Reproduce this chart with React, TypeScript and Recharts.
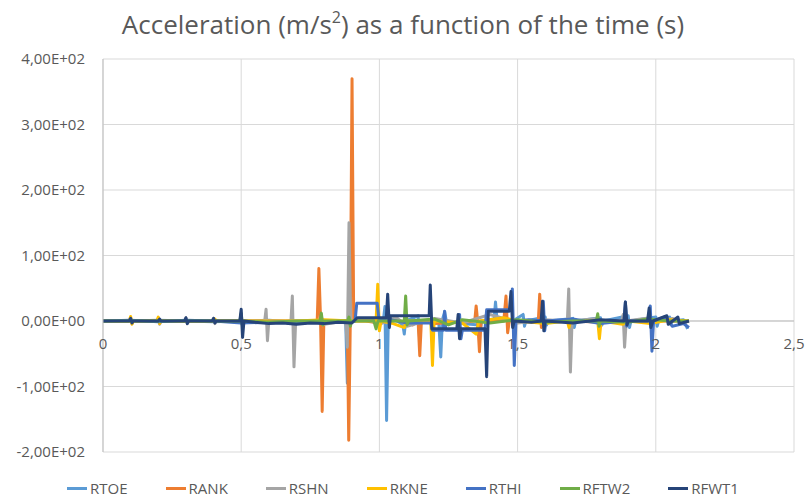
import { LineChart, Line, XAxis, YAxis, CartesianGrid, ReferenceLine } from "recharts"

type Pt = [number, number]

// time (s), acceleration (m/s²) per marker
const RTOE: Pt[] = [
  [0, 0], [0.1, 0], [0.2, 1], [0.3, 0], [0.4, -1], [0.495, 0], [0.5, 5], [0.505, -7], [0.51, 0],
  [0.6, 1], [0.7, -2], [0.8, 0], [0.878, 0], [0.884, -95], [0.889, 12], [0.895, 0], [0.95, 2],
  [1.015, 3], [1.02, 22], [1.026, -152], [1.032, -4], [1.06, 2], [1.085, -6], [1.09, -20], [1.095, 0],
  [1.14, 8], [1.145, -24], [1.15, 0], [1.215, -3], [1.222, -55], [1.228, 2], [1.236, 14], [1.242, 0],
  [1.3, -4], [1.36, -6], [1.365, -14], [1.37, 0], [1.415, 3], [1.42, 29], [1.426, 0], [1.49, 2],
  [1.52, 10], [1.525, -8], [1.53, 0], [1.6, 6], [1.605, -6], [1.61, 0], [1.7, 4], [1.705, -10], [1.71, 0],
  [1.8, 5], [1.805, -6], [1.81, 0], [1.9, 8], [1.905, -10], [1.91, 0], [2.0, 6], [2.005, -8], [2.01, 0],
  [2.05, 6], [2.055, -5], [2.06, 0], [2.1, 2], [2.115, -12],
]

const RANK: Pt[] = [
  [0, 0], [0.3, 0], [0.6, 0], [0.775, 0], [0.781, 80], [0.787, 4], [0.793, -138], [0.799, 0],
  [0.84, 0], [0.884, 0], [0.889, -182], [0.895, 8], [0.901, 370], [0.907, 0], [0.95, 0], [1.0, -3],
  [1.06, 2], [1.12, -6], [1.14, 0], [1.146, -53], [1.152, 0], [1.2, -4], [1.3, -2], [1.345, 0],
  [1.35, 23], [1.356, -3], [1.362, -47], [1.368, 0], [1.45, 0], [1.458, 38], [1.464, -18], [1.47, 0],
  [1.575, 0], [1.58, 41], [1.586, -10], [1.592, 0], [1.7, 0], [1.8, -2], [1.9, 0], [2.0, 0], [2.1, 0], [2.12, 0],
]

const RSHN: Pt[] = [
  [0, 0], [0.095, 0], [0.1, 5], [0.105, -4], [0.11, 0], [0.195, 0], [0.2, 4], [0.205, -5], [0.21, 0],
  [0.295, 0], [0.3, 5], [0.305, -4], [0.31, 0], [0.395, 0], [0.4, 4], [0.405, -4], [0.41, 0],
  [0.585, 0], [0.59, 18], [0.595, -30], [0.6, 0], [0.68, 0], [0.685, 38], [0.691, -70], [0.697, 0],
  [0.78, 0], [0.79, 6], [0.8, -5], [0.878, 0], [0.884, -40], [0.89, 150], [0.896, 0], [0.95, 3],
  [1.0, -5], [1.06, 6], [1.1, -8], [1.2, 4], [1.3, -3], [1.4, 10], [1.45, 4], [1.5, -3], [1.6, 2],
  [1.68, 0], [1.685, 49], [1.691, -78], [1.697, 0], [1.79, 4], [1.795, -6], [1.8, 0], [1.877, 0],
  [1.882, 10], [1.887, -40], [1.893, 0], [1.98, 5], [1.985, -8], [1.99, 0], [2.06, 4], [2.1, -3], [2.12, 0],
]

const RKNE: Pt[] = [
  [0, 0], [0.095, 0], [0.1, 7], [0.105, -5], [0.11, 0], [0.195, 0], [0.2, 6], [0.205, -4], [0.21, 0],
  [0.4, 0], [0.405, 3], [0.41, 0], [0.7, 0], [0.8, 2], [0.9, 0], [0.988, 0], [0.994, 56], [1.0, -15],
  [1.006, 0], [1.05, -4], [1.09, -10], [1.1, 0], [1.186, 0], [1.192, -68], [1.198, 0], [1.3, -3],
  [1.35, -20], [1.36, 0], [1.45, 5], [1.5, 0], [1.6, -4], [1.68, 0], [1.686, -10], [1.692, 0],
  [1.79, 0], [1.796, -27], [1.802, 0], [1.88, -5], [1.9, 0], [1.98, -4], [2.05, 2], [2.12, 0],
]

const RTHI: Pt[] = [
  [0, 0], [0.1, 1], [0.2, -1], [0.3, 1], [0.4, 0], [0.5, -3], [0.6, -2], [0.7, -1], [0.8, -2], [0.9, -2],
  [0.912, 0], [0.918, 27], [0.992, 27], [0.998, 4], [1.04, 2], [1.1, -3], [1.186, -3], [1.192, -14],
  [1.232, -14], [1.236, 15], [1.24, -14], [1.285, -14], [1.29, 10], [1.295, -27], [1.3, -14],
  [1.382, -14], [1.388, 17], [1.476, 17], [1.481, 49], [1.488, -68], [1.494, 0], [1.54, 2],
  [1.588, 0], [1.593, 30], [1.598, -15], [1.603, 0], [1.7, 3], [1.8, -4], [1.885, 0], [1.89, 29],
  [1.895, -8], [1.9, 0], [1.975, 0], [1.98, 23], [1.986, -46], [1.992, 0], [2.03, 6], [2.06, -8],
  [2.1, -4], [2.12, -10],
]

const RFTW2: Pt[] = [
  [0, 0], [0.495, 0], [0.5, 12], [0.505, -10], [0.51, 0], [0.6, -2], [0.7, 0], [0.785, 0], [0.79, 12],
  [0.795, -6], [0.8, 0], [0.885, 0], [0.89, 6], [0.895, -8], [0.9, 0], [0.98, 0], [0.988, -12],
  [0.995, 0], [1.09, 0], [1.095, 38], [1.1, -6], [1.106, 0], [1.2, 3], [1.25, -6], [1.3, 2],
  [1.4, -3], [1.5, 2], [1.6, -2], [1.7, 0], [1.785, 0], [1.79, 11], [1.795, -8], [1.8, 0],
  [1.9, -2], [1.97, 3], [2.05, 0], [2.12, 0],
]

const RFWT1: Pt[] = [
  [0, 0], [0.095, 0], [0.1, 4], [0.105, -3], [0.11, 0], [0.2, 0], [0.205, 3], [0.21, 0], [0.295, 0],
  [0.3, 5], [0.305, -4], [0.31, 0], [0.395, 0], [0.4, 4], [0.405, -3], [0.41, 0], [0.495, 0],
  [0.5, 18], [0.505, -25], [0.51, 0], [0.55, -2], [0.6, -4], [0.65, -3], [0.7, -5], [0.75, -3],
  [0.8, -4], [0.85, -2], [0.9, -3], [0.92, 5], [1.025, 5], [1.03, 41], [1.036, -10], [1.04, 8],
  [1.18, 8], [1.184, 55], [1.19, -12], [1.28, -12], [1.285, 10], [1.29, -27], [1.295, -12],
  [1.382, -12], [1.388, -85], [1.394, 15], [1.47, 15], [1.476, 45], [1.482, -10], [1.488, 0],
  [1.55, -2], [1.585, 0], [1.59, 30], [1.595, -15], [1.6, 0], [1.7, -3], [1.8, 2], [1.885, 0],
  [1.89, 29], [1.896, -6], [1.9, 0], [1.97, 0], [1.976, 20], [1.982, -10], [1.99, 0], [2.04, 8],
  [2.045, -5], [2.08, 6], [2.085, -4], [2.12, 0],
]

const SERIES = [
  { name: "RTOE", color: "#5b9bd5", pts: RTOE },
  { name: "RANK", color: "#ed7d31", pts: RANK },
  { name: "RSHN", color: "#a5a5a5", pts: RSHN },
  { name: "RKNE", color: "#ffc000", pts: RKNE },
  { name: "RTHI", color: "#4472c4", pts: RTHI },
  { name: "RFTW2", color: "#70ad47", pts: RFTW2 },
  { name: "RFWT1", color: "#264478", pts: RFWT1 },
]

const X_TICKS = [0, 0.5, 1, 1.5, 2, 2.5]
const Y_TICKS = [-200, -100, 0, 100, 200, 300, 400]

const W = 806
const H = 498
const TOP = 59
const BOTTOM = 452
const Y_MIN = -200
const Y_MAX = 400
const FONT = "'Liberation Sans Narrow', 'Open Sans', sans-serif"
const TEXT = "#595959"

// 4,00E+02 style labels
function sci(v: number): string {
  const [m, e] = v.toExponential(2).split("e")
  const n = Math.abs(Number(e))
  const sign = Number(e) < 0 ? "-" : "+"
  return `${m.replace(".", ",")}E${sign}${String(n).padStart(2, "0")}`
}

// x labels sit under the zero line, not at the bottom of the plot
const zeroY = TOP + ((BOTTOM - TOP) * (Y_MAX - 0)) / (Y_MAX - Y_MIN)

function XTick(props: any) {
  const { x, payload } = props
  return (
    <text x={x} y={zeroY + 24} textAnchor="middle" dominantBaseline="middle" fill={TEXT} fontSize={15} fontFamily={FONT}>
      {String(payload.value).replace(".", ",")}
    </text>
  )
}

export default function App() {
  return (
    <div style={{ position: "absolute", left: 0, top: 0, width: W, height: H, background: "#fff", fontFamily: FONT }}>
      <div style={{ position: "absolute", top: 6, left: 0, width: W, textAlign: "center", fontSize: 26, color: TEXT }}>
        Acceleration (m/s<sup style={{ fontSize: 16, verticalAlign: "top", lineHeight: "22px" }}>2</sup>) as a function of the time (s)
      </div>

      <LineChart width={W} height={H} margin={{ top: TOP, right: 12, bottom: H - BOTTOM - 20, left: 8 }}>
        <CartesianGrid stroke="#d9d9d9" strokeWidth={1} />
        <XAxis
          type="number"
          dataKey="t"
          domain={[0, 2.5]}
          ticks={X_TICKS}
          height={20}
          axisLine={false}
          tickLine={false}
          tick={<XTick />}
          allowDataOverflow
        />
        <YAxis
          type="number"
          domain={[Y_MIN, Y_MAX]}
          ticks={Y_TICKS}
          width={95}
          axisLine={{ stroke: "#bfbfbf" }}
          tickLine={false}
          tickMargin={12}
          tickFormatter={sci}
          tick={{ fill: TEXT, fontSize: 15, fontFamily: FONT }}
          allowDataOverflow
        />
        <ReferenceLine y={0} stroke="#bfbfbf" />
        {SERIES.map((s) => (
          <Line
            key={s.name}
            name={s.name}
            data={s.pts.map(([t, v]) => ({ t, v }))}
            dataKey="v"
            type="linear"
            stroke={s.color}
            strokeWidth={3}
            strokeLinejoin="round"
            dot={false}
            activeDot={false}
            isAnimationActive={false}
          />
        ))}
      </LineChart>

      <div style={{ position: "absolute", top: 478, left: 0, width: W, display: "flex", justifyContent: "center", gap: 38, fontSize: 15, color: TEXT }}>
        {SERIES.map((s) => (
          <div key={s.name} style={{ display: "flex", alignItems: "center" }}>
            <span style={{ display: "inline-block", width: 20, height: 3, background: s.color, marginRight: 3 }} />
            {s.name}
          </div>
        ))}
      </div>
    </div>
  )
}
